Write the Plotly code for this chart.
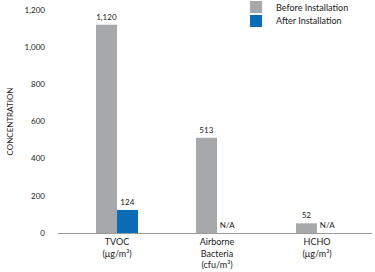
import plotly.graph_objects as go

categories = ["TVOC<br>(μg/m³)", "Airborne<br>Bacteria<br>(cfu/m³)", "HCHO<br>(μg/m³)"]
before_values = [1120, 513, 52]
before_labels = ["1,120", "513", "52"]
after_values = [124, 0, 0]
after_labels = ["124", "N/A", "N/A"]
y_ticks = [0, 200, 400, 600, 800, 1000, 1200]
y_tick_labels = ["0", "200", "400", "600", "800", "1,000", "1,200"]

font_family = "Lato, Open Sans, sans-serif"
txt = "#222"

fig = go.Figure()
fig.add_trace(go.Bar(
    name="Before Installation", x=categories, y=before_values,
    text=before_labels, textposition="outside", cliponaxis=False,
    marker=dict(color="#a7a8aa", line=dict(width=0)),
    textfont=dict(size=8, color=txt),
    legend="legend",
))
fig.add_trace(go.Bar(
    name="After Installation", x=categories, y=after_values,
    text=after_labels, textposition="outside", cliponaxis=False,
    marker=dict(color="#0a6bb6", line=dict(width=0)),
    textfont=dict(size=8, color=txt),
    legend="legend2",
))

legend_common = dict(
    xanchor="left", yanchor="middle",
    font=dict(size=9, color=txt),
    itemwidth=30, bgcolor="rgba(0,0,0,0)", borderwidth=0,
)

fig.update_layout(
    width=375, height=272,
    margin=dict(l=58, r=3, t=10, b=39, autoexpand=False),
    paper_bgcolor="white", plot_bgcolor="white",
    barmode="group", bargap=0.58, bargroupgap=0,
    font=dict(family=font_family, size=8, color=txt),
    showlegend=True,
    legend=dict(x=0.567, y=1.013, **legend_common),
    legend2=dict(x=0.567, y=0.951, **legend_common),
    xaxis=dict(
        range=[-0.59, 2.55], automargin=False,
        showline=True, linecolor="#999", linewidth=1,
        ticks="", showgrid=False, zeroline=False,
        tickfont=dict(size=9, color=txt),
    ),
    yaxis=dict(
        range=[0, 1200], tickvals=y_ticks, ticktext=y_tick_labels, automargin=False,
        showgrid=False, zeroline=False, showline=False, ticks="",
        ticklabelstandoff=12,
        tickfont=dict(size=8, color=txt),
        title=dict(text="CONCENTRATION", font=dict(size=8, color=txt), standoff=9),
    ),
)

fig.write_html("out.html")
